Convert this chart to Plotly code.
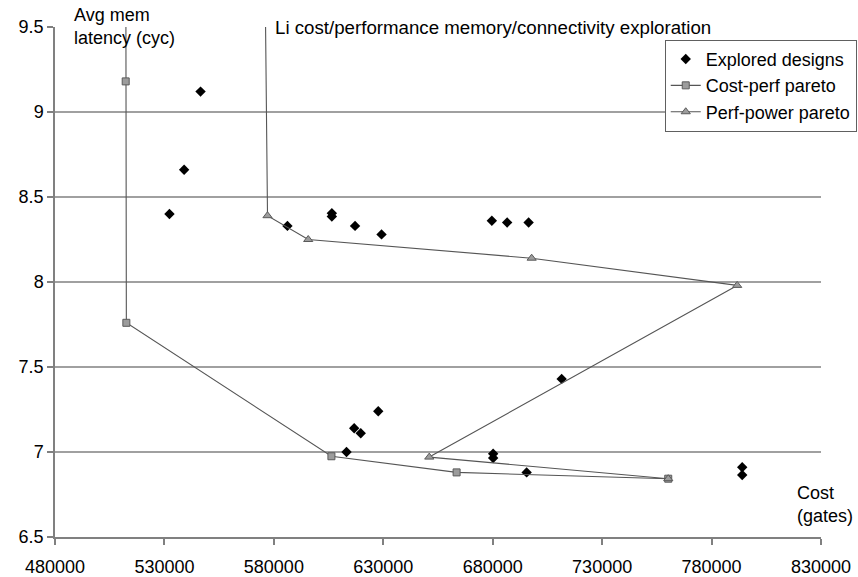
import plotly.graph_objects as go

# Explored design points: cost (gates) vs average memory latency (cycles)
explored_cost = [546500, 539000, 532300, 586200, 606500, 606500, 617100, 629200,
                 679600, 686600, 696400, 711500, 627700, 616700, 619700, 613200,
                 680200, 680200, 695500, 794000, 794000]
explored_lat = [9.12, 8.66, 8.40, 8.33, 8.405, 8.385, 8.33, 8.28,
                8.36, 8.35, 8.35, 7.43, 7.24, 7.14, 7.11, 7.00,
                6.99, 6.965, 6.88, 6.91, 6.865]

# Cost/performance pareto front (first point lies above the latency scale)
cp_cost = [512300, 512300, 512600, 606300, 663500, 760200]
cp_lat = [10.4, 9.18, 7.76, 6.975, 6.88, 6.843]

# Performance/power pareto front (first point lies above the latency scale)
pp_cost = [575500, 577100, 595700, 697800, 791700, 651000, 760200]
pp_lat = [10.4, 8.39, 8.25, 8.14, 7.98, 6.97, 6.843]

x_ticks = [480000, 530000, 580000, 630000, 680000, 730000, 780000, 830000]
y_ticks = [6.5, 7, 7.5, 8, 8.5, 9, 9.5]
grid_vals = [7, 7.5, 8, 8.5, 9]

FONT = "Liberation Sans, Arial, sans-serif"
GRID = "#808080"
LINE = "#555555"

fig = go.Figure()

fig.add_trace(go.Scatter(
    x=explored_cost, y=explored_lat, mode="markers", name="Explored designs",
    marker=dict(symbol="diamond", size=8, color="black", line=dict(width=0)),
))
fig.add_trace(go.Scatter(
    x=cp_cost, y=cp_lat, mode="lines+markers", name="Cost-perf pareto",
    line=dict(color=LINE, width=1.1),
    marker=dict(symbol="square", size=7, color="#9c9c9c",
                line=dict(color="#5a5a5a", width=1)),
))
fig.add_trace(go.Scatter(
    x=pp_cost, y=pp_lat, mode="lines+markers", name="Perf-power pareto",
    line=dict(color=LINE, width=1.1),
    marker=dict(symbol="triangle-up", size=8, color="#9c9c9c",
                line=dict(color="#5a5a5a", width=1)),
))

# Horizontal gridlines (none at the top of the scale)
for gv in grid_vals:
    fig.add_shape(type="line", xref="paper", x0=0, x1=1, yref="y", y0=gv, y1=gv,
                  line=dict(color=GRID, width=1.5), layer="below")

fig.add_annotation(text="Avg mem<br>latency (cyc)", xref="paper", yref="paper",
                   x=0.0218, y=1.048, xanchor="left", yanchor="top", align="left",
                   showarrow=False, font=dict(family=FONT, size=18, color="black"))
fig.add_annotation(text="Li cost/performance memory/connectivity exploration",
                   xref="paper", yref="paper", x=0.2843, y=1.0,
                   xanchor="left", yanchor="middle", showarrow=False,
                   font=dict(family=FONT, size=18.7, color="black"))
fig.add_annotation(text="Cost<br>(gates)", xref="paper", yref="paper",
                   x=0.966, y=0.064, xanchor="left", yanchor="middle", align="left",
                   showarrow=False, font=dict(family=FONT, size=18, color="black"))

fig.update_layout(
    width=858, height=577,
    margin=dict(l=55, r=37, t=27, b=40, autoexpand=False),
    paper_bgcolor="white", plot_bgcolor="white",
    font=dict(family=FONT, size=18, color="black"),
    showlegend=True,
    legend=dict(x=0.796, y=0.975, xanchor="left", yanchor="top",
                bgcolor="white", bordercolor="#606060", borderwidth=1,
                font=dict(family=FONT, size=18, color="black"),
                tracegroupgap=0, itemwidth=30),
    xaxis=dict(range=[480000, 830000], tickvals=x_ticks, tickformat="d",
               automargin=False,
               showgrid=False, zeroline=False, showline=True,
               linecolor=GRID, linewidth=1.5, ticks="outside", ticklen=6,
               tickcolor=GRID, tickwidth=1.5, ticklabelstandoff=7,
               tickfont=dict(family=FONT, size=18, color="black")),
    yaxis=dict(range=[6.5, 9.5], tickvals=y_ticks, automargin=False,
               showgrid=False, zeroline=False, showline=True,
               linecolor=GRID, linewidth=1.5, ticks="outside", ticklen=6,
               tickcolor=GRID, tickwidth=1.5,
               tickfont=dict(family=FONT, size=18, color="black")),
)

fig.write_html("out.html")
